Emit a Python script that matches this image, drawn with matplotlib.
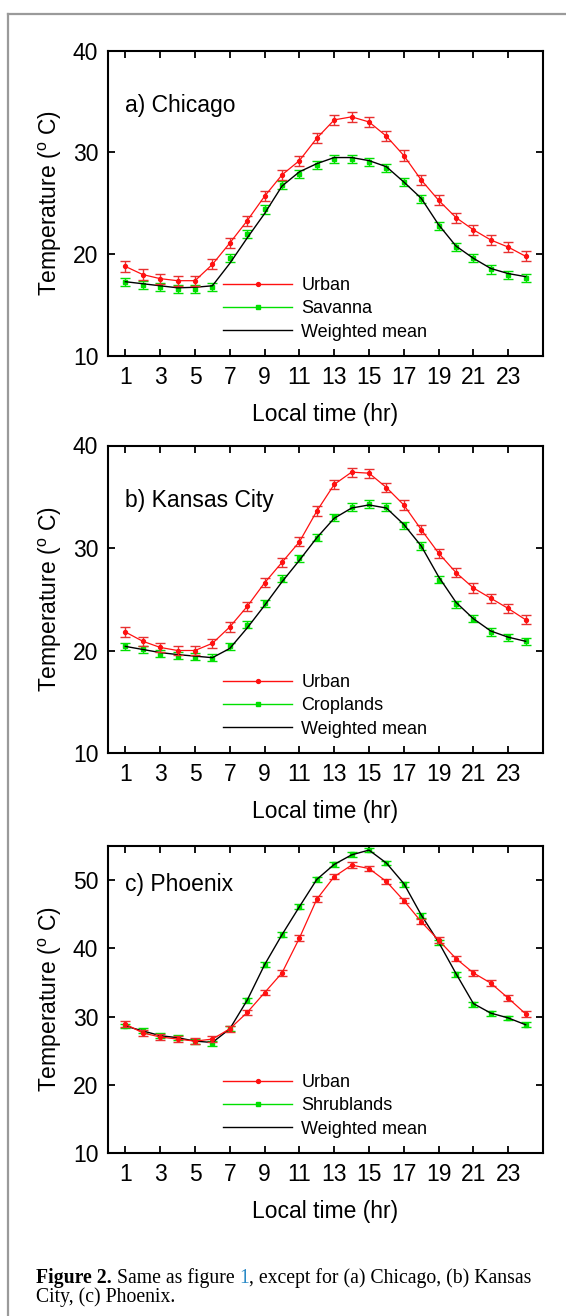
import matplotlib
matplotlib.use('Agg')
import matplotlib.pyplot as plt
from matplotlib.lines import Line2D

plt.rcParams["font.family"] = ["Liberation Sans", "DejaVu Sans"]

# ----------------------
# data
# ----------------------
hours = list(range(1, 25))

chicago_urban = [18.8, 18.0, 17.6, 17.4, 17.4, 19.0, 21.1, 23.3, 25.7, 27.8, 29.2, 31.4,
                 33.2, 33.5, 33.0, 31.6, 29.7, 27.3, 25.3, 23.6, 22.4, 21.4, 20.7, 19.8]
chicago_urban_err = [0.5] * 24
chicago_rural = [17.3, 17.0, 16.8, 16.6, 16.6, 16.8, 19.6, 22.0, 24.4, 26.8, 27.9, 28.8,
                 29.4, 29.4, 29.1, 28.5, 27.1, 25.4, 22.8, 20.7, 19.6, 18.5, 18.0, 17.7]
chicago_rural_err = [0.4] * 24
chicago_mean = [17.3, 17.1, 16.9, 16.7, 16.75, 16.9, 19.1, 21.6, 24.0, 26.7, 28.1, 28.9,
                29.5, 29.5, 29.2, 28.6, 27.1, 25.5, 22.9, 20.8, 19.6, 18.6, 18.1, 17.8]

kansas_urban = [21.8, 20.9, 20.3, 20.0, 20.0, 20.7, 22.3, 24.3, 26.6, 28.6, 30.6, 33.6,
                36.2, 37.4, 37.3, 35.9, 34.2, 31.8, 29.5, 27.6, 26.1, 25.1, 24.1, 23.0]
kansas_urban_err = [0.45] * 24
kansas_rural = [20.4, 20.1, 19.7, 19.5, 19.4, 19.3, 20.4, 22.5, 24.6, 27.0, 29.0, 31.0,
                33.0, 34.0, 34.3, 34.0, 32.2, 30.2, 26.9, 24.5, 23.1, 21.8, 21.3, 20.9]
kansas_rural_err = [0.35] * 24
kansas_mean = [20.4, 20.1, 19.8, 19.6, 19.45, 19.3, 20.2, 22.2, 24.4, 26.7, 28.8, 31.0,
               32.9, 33.9, 34.2, 33.9, 32.3, 30.2, 27.2, 24.7, 23.1, 21.9, 21.3, 20.9]

phoenix_urban = [28.9, 27.6, 27.0, 26.7, 26.4, 26.7, 28.2, 30.6, 33.5, 36.4, 41.5, 47.2,
                 50.5, 52.2, 51.7, 49.8, 47.0, 43.9, 41.2, 38.5, 36.4, 34.9, 32.7, 30.4]
phoenix_urban_err = [0.4] * 24
phoenix_rural = [28.6, 27.9, 27.2, 26.9, 26.4, 26.1, 28.2, 32.4, 37.6, 42.0, 46.1, 50.1,
                 52.3, 53.8, 54.4, 52.5, 49.4, 44.8, 40.9, 36.2, 31.8, 30.5, 29.8, 28.8]
phoenix_rural_err = [0.35] * 24
phoenix_mean = [28.6, 27.9, 27.2, 26.9, 26.4, 26.2, 28.2, 32.4, 37.6, 42.0, 46.1, 50.1,
                52.3, 53.7, 54.4, 52.5, 49.5, 44.9, 40.9, 36.3, 31.9, 30.5, 29.8, 28.8]

panels = [
    ("a) Chicago", "Savanna", chicago_urban, chicago_urban_err, chicago_rural, chicago_rural_err, chicago_mean, (10, 40), [10, 20, 30, 40], 34.6),
    ("b) Kansas City", "Croplands", kansas_urban, kansas_urban_err, kansas_rural, kansas_rural_err, kansas_mean, (10, 40), [10, 20, 30, 40], 34.6),
    ("c) Phoenix", "Shrublands", phoenix_urban, phoenix_urban_err, phoenix_rural, phoenix_rural_err, phoenix_mean, (10, 55), [10, 20, 30, 40, 50], 49.3),
]

RED = "#ff1010"
GREEN = "#00e000"

W, H = 566, 1316
fig = plt.figure(figsize=(W / 100, H / 100), dpi=100)

# grey frame (left + top edge)
fig.add_artist(Line2D([8 / W, 8 / W], [0, 1 - 14 / H], transform=fig.transFigure, color="#9a9a9a", lw=1.6))
fig.add_artist(Line2D([8 / W, 1], [1 - 14 / H, 1 - 14 / H], transform=fig.transFigure, color="#9a9a9a", lw=1.6))

tops = [50.7, 445.5, 846]
bottoms = [356, 753, 1153]

for (title, rural_name, urb, urb_err, rur, rur_err, wmean, ylim, yticks, ty), top, bot in zip(panels, tops, bottoms):
    ax = fig.add_axes([108 / W, 1 - bot / H, (543 - 108) / W, (bot - top) / H])
    ax.errorbar(hours, urb, yerr=urb_err, color=RED, lw=0.9, marker="o", ms=2.8,
                elinewidth=1.0, capsize=3.5, capthick=1.0, ecolor="#e83030", zorder=3)
    ax.errorbar(hours, rur, yerr=rur_err, color=GREEN, ls="none", marker="s", ms=2.6,
                elinewidth=1.0, capsize=3.5, capthick=1.0, ecolor=GREEN, zorder=2)
    ax.plot(hours, wmean, color="black", lw=1.0, zorder=2.5)

    ax.set_xlim(0, 25)
    ax.set_ylim(*ylim)
    ax.set_xticks(range(1, 24, 2))
    ax.set_yticks(yticks)
    ax.tick_params(direction="in", top=True, right=True, length=5, width=1.3, labelsize=16.5, pad=7)
    for s in ax.spines.values():
        s.set_linewidth(1.5)
    ax.set_xlabel("Local time (hr)", fontsize=16.5, labelpad=10)
    ax.set_ylabel("Temperature ($^\\mathregular{o}$ C)", fontsize=16.5, labelpad=6)
    ax.text(1, ty, title, fontsize=16.5, va="center", ha="left")

    handles = [
        Line2D([], [], color=RED, lw=1.0, marker="o", ms=2.8),
        Line2D([], [], color=GREEN, lw=1.0, marker="s", ms=3),
        Line2D([], [], color="black", lw=1.0),
    ]
    ax.legend(handles, ["Urban", rural_name, "Weighted mean"], loc="lower left",
              bbox_to_anchor=(0.264, 0.05), frameon=False, fontsize=13,
              handlelength=3.85, handletextpad=0.5, labelspacing=0.35,
              borderpad=0, borderaxespad=0, markerfirst=True)

# caption with mixed styles
fig.canvas.draw()
renderer = fig.canvas.get_renderer()
serif = ["Liberation Serif", "DejaVu Serif"]


def put_line(x, y, pieces):
    for s, kw in pieces:
        t = fig.text(x / W, 1 - y / H, s, family=serif, fontsize=14.2, va="baseline", ha="left", **kw)
        x += t.get_window_extent(renderer).width


put_line(36, 1283, [("Figure 2.", {"weight": "bold"}),
                    (" Same as figure ", {}),
                    ("1", {"color": "#2a8ac6"}),
                    (", except for (a) Chicago, (b) Kansas", {})])
put_line(36, 1302, [("City, (c) Phoenix.", {})])

fig.savefig("out.png", dpi=100)
